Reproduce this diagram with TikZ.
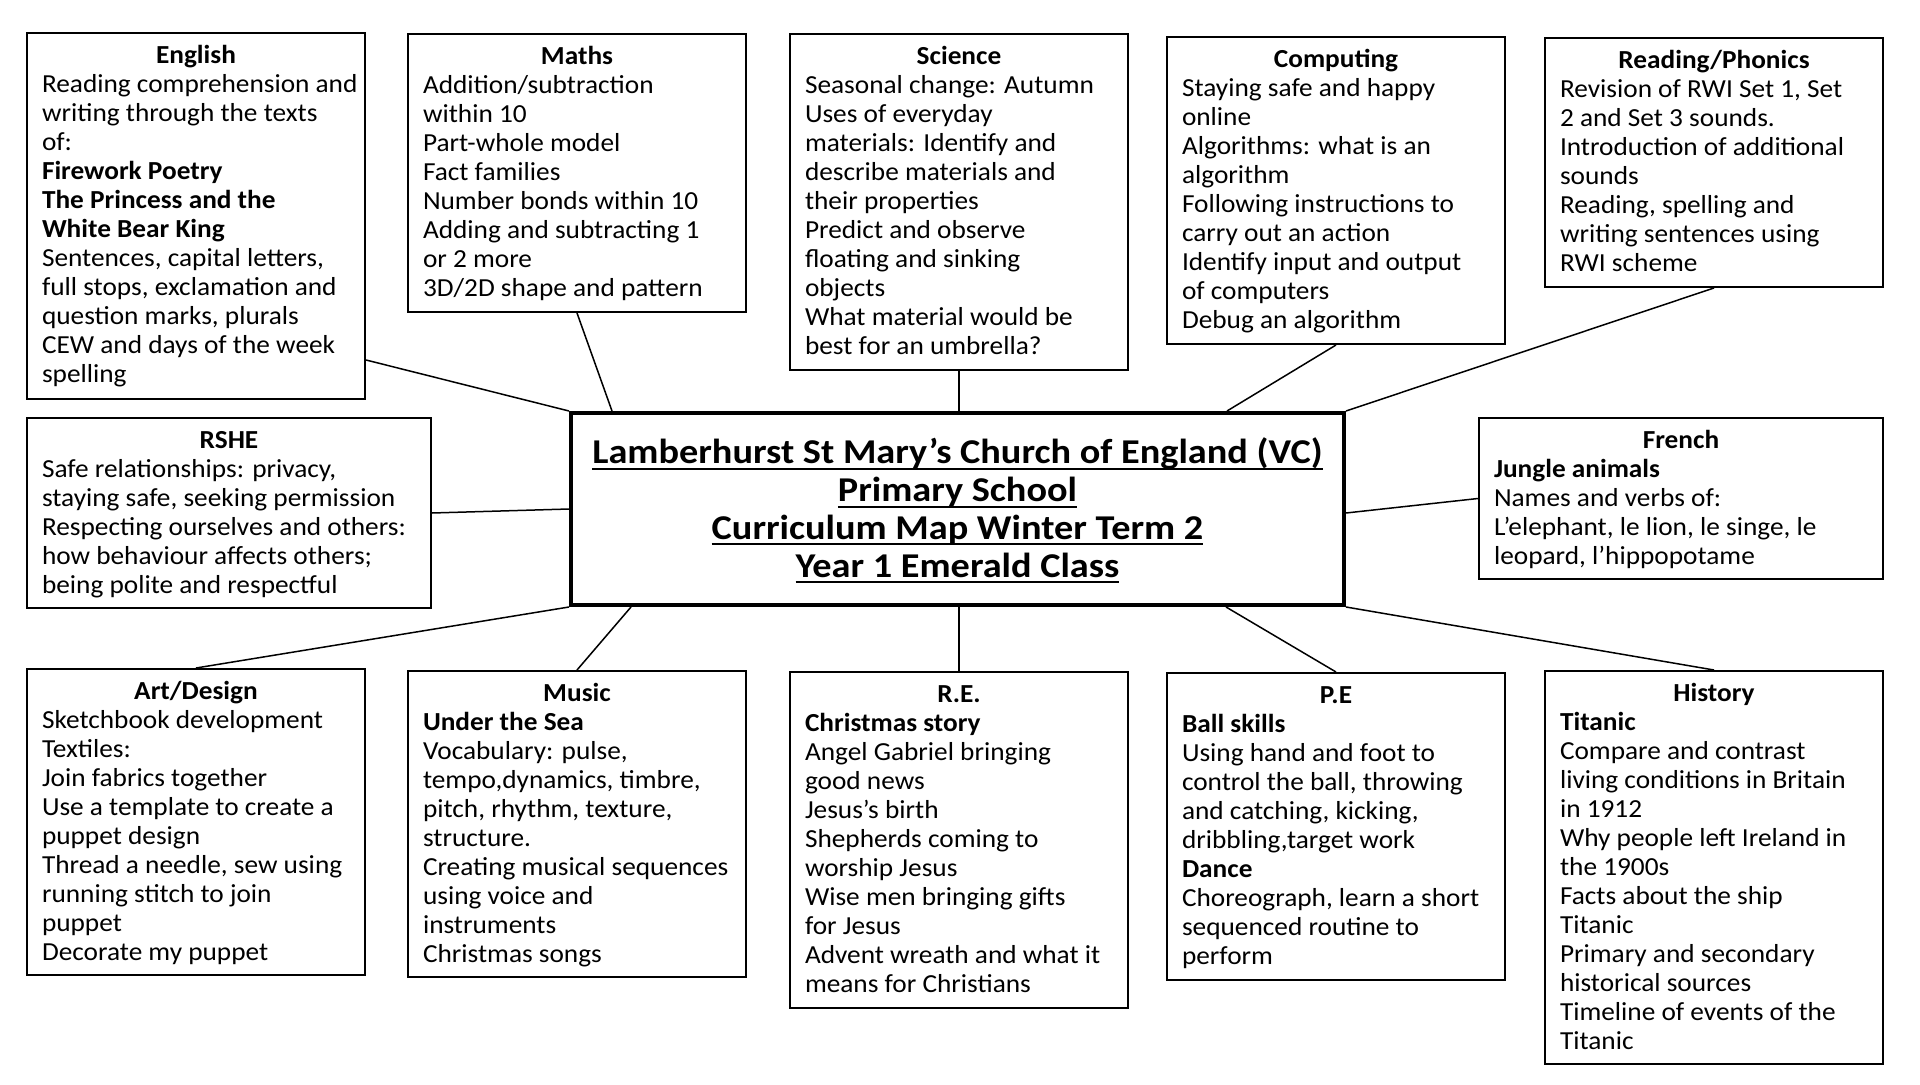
\documentclass[tikz,border=0pt]{standalone}
\usepackage{fontspec}
\setmainfont{Carlito}[FakeStretch=1.05]
\newfontfamily\titlefont{Carlito}[FakeStretch=1.1]
\usetikzlibrary{calc}
\newcommand{\myul}[1]{\leavevmode\setbox0\hbox{#1}\rlap{\rule[-3pt]{\wd0}{1pt}}\box0}
\newcommand{\subjbox}[6]{%
  \node[subj, anchor=north west] (#1) at (#2)
  {\parbox[c][#4][t]{\dimexpr #3-15pt\relax}{\centering\rule{0pt}{15.35pt}\textbf{#5}\par
   \raggedright\renewcommand{\arraystretch}{1}\begin{tabular}[t]{@{}l@{}}#6\end{tabular}\par}};}
\tikzset{
  subj/.style={draw=black, line width=1pt, fill=white, inner xsep=7.5pt, inner ysep=0pt,
    font=\fontsize{13pt}{14.5pt}\selectfont},
  central/.style={draw=black, line width=2pt, fill=white, inner sep=0pt,
    font=\titlefont\bfseries\fontsize{17.4pt}{18.9pt}\selectfont},
  conn/.style={draw=black, line width=0.75pt}
}
\begin{document}
\begin{tikzpicture}[x=0.5pt,y=-0.5pt]
\useasboundingbox[fill=white] (0,0) rectangle (1920,1085);

\subjbox{eng}{26,32}{169pt}{183pt}{English}{%
Reading comprehension and\\
writing through the texts\\
of:\\
\textbf{Firework Poetry}\\
\textbf{The Princess and the}\\
\textbf{White Bear King}\\
Sentences, capital letters,\\
full stops, exclamation and\\
question marks, plurals\\
CEW and days of the week\\
spelling}

\subjbox{maths}{407,33}{169pt}{139pt}{Maths}{%
Addition/subtraction\\
within 10\\
Part-whole model\\
Fact families\\
Number bonds within 10\\
Adding and subtracting 1\\
or 2 more\\
3D/2D shape and pattern}

\subjbox{sci}{789,33}{169pt}{168pt}{Science}{%
Seasonal change: Autumn\\
Uses of everyday\\
materials: Identify and\\
describe materials and\\
their properties\\
Predict and observe\\
floating and sinking\\
objects\\
What material would be\\
best for an umbrella?}

\subjbox{comp}{1166,36}{169pt}{153.5pt}{Computing}{%
Staying safe and happy\\
online\\
Algorithms: what is an\\
algorithm\\
Following instructions to\\
carry out an action\\
Identify input and output\\
of computers\\
Debug an algorithm}

\subjbox{read}{1544,37}{169pt}{124.5pt}{Reading/Phonics}{%
Revision of RWI Set 1, Set\\
2 and Set 3 sounds.\\
Introduction of additional\\
sounds\\
Reading, spelling and\\
writing sentences using\\
RWI scheme}

\subjbox{rshe}{26,417}{202pt}{95pt}{RSHE}{%
Safe relationships: privacy,\\
staying safe, seeking permission\\
Respecting ourselves and others:\\
how behaviour affects others;\\
being polite and respectful}

\subjbox{french}{1478,417}{202pt}{80.5pt}{French}{%
\textbf{Jungle animals}\\
Names and verbs of:\\
L’elephant, le lion, le singe, le\\
leopard, l’hippopotame}

\subjbox{art}{26,668}{169pt}{153pt}{Art/Design}{%
Sketchbook development\\
Textiles:\\
Join fabrics together\\
Use a template to create a\\
puppet design\\
Thread a needle, sew using\\
running stitch to join\\
puppet\\
Decorate my puppet}

\subjbox{music}{407,670}{169pt}{153pt}{Music}{%
\textbf{Under the Sea}\\
Vocabulary: pulse,\\
tempo,dynamics, timbre,\\
pitch, rhythm, texture,\\
structure.\\
Creating musical sequences\\
using voice and\\
instruments\\
Christmas songs}

\subjbox{re}{789,671}{169pt}{168pt}{R.E.}{%
\textbf{Christmas story}\\
Angel Gabriel bringing\\
good news\\
Jesus’s birth\\
Shepherds coming to\\
worship Jesus\\
Wise men bringing gifts\\
for Jesus\\
Advent wreath and what it\\
means for Christians}

\subjbox{pe}{1166,672}{169pt}{153.5pt}{P.E}{%
\textbf{Ball skills}\\
Using hand and foot to\\
control the ball, throwing\\
and catching, kicking,\\
dribbling,target work\\
\textbf{Dance}\\
Choreograph, learn a short\\
sequenced routine to\\
perform}

\subjbox{hist}{1544,670}{169pt}{196.5pt}{History}{%
\textbf{Titanic}\\
Compare and contrast\\
living conditions in Britain\\
in 1912\\
Why people left Ireland in\\
the 1900s\\
Facts about the ship\\
Titanic\\
Primary and secondary\\
historical sources\\
Timeline of events of the\\
Titanic}

\node[central, anchor=north west] (c) at (569,411)
{\parbox[c][96pt][t]{386.5pt}{\centering\rule{0pt}{25.35pt}%
\myul{Lamberhurst St Mary’s Church of England (VC)}\par
\myul{Primary School}\par
\myul{Curriculum Map Winter Term 2}\par
\myul{Year 1 Emerald Class}\par}};

\draw[conn] ($(eng.south east)+(0,-40)$) -- (c.north west);
\draw[conn] (maths.south) -- ($(c.north west)+(43,0)$);
\draw[conn] (sci.south) -- (sci.south |- c.north);
\draw[conn] (comp.south) -- ($(c.north east)+(-119,0)$);
\draw[conn] (read.south) -- (c.north east);
\draw[conn] (rshe.east) -- (c.west);
\draw[conn] ($(c.east)+(0,4)$) -- (french.west);
\draw[conn] (art.north) -- (c.south west);
\draw[conn] (music.north) -- ($(c.south west)+(62,0)$);
\draw[conn] (re.north) -- (re.north |- c.south);
\draw[conn] (pe.north) -- ($(c.south east)+(-120,0)$);
\draw[conn] (hist.north) -- (c.south east);
\end{tikzpicture}
\end{document}
